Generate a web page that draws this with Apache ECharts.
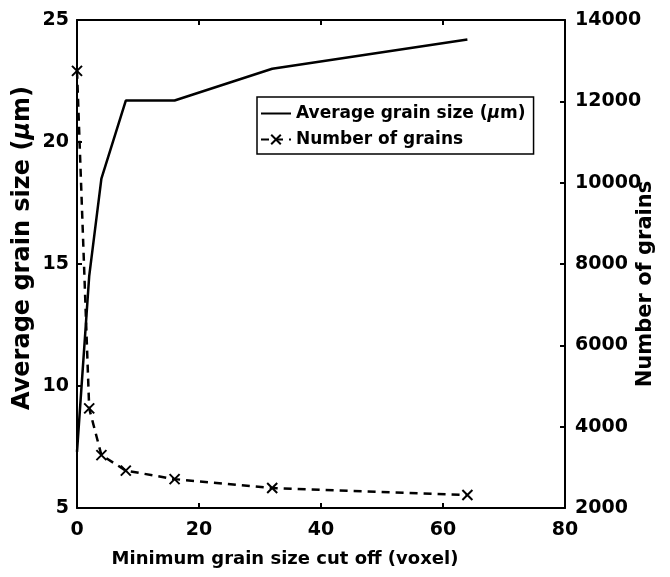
<!DOCTYPE html>
<html>
<head>
<meta charset="utf-8">
<script src="https://cdn.jsdelivr.net/npm/echarts@6/dist/echarts.min.js"></script>
<style>html,body{margin:0;padding:0;background:#fff}#c{width:670px;height:577px}</style>
</head>
<body>
<div id="c"></div>
<script>
var cutoff = [0, 2, 4, 8, 16, 32, 64];
var avgGrainSize = [7.3, 14.5, 18.5, 21.7, 21.7, 23.0, 24.2];
var numGrains = [12750, 4450, 3300, 2920, 2710, 2490, 2320];
var xTicks = {min: 0, max: 80, interval: 20};
var leftTicks = {min: 5, max: 25, interval: 5};
var rightTicks = {min: 2000, max: 14000, interval: 2000};

var FONT = 'DejaVu Sans';
var chart = echarts.init(document.getElementById('c'), null, {renderer: 'canvas'});
var lineAxis = {show: true, onZero: false, lineStyle: {color: '#000', width: 2}};
var tick = {show: true, inside: true, length: 5, lineStyle: {color: '#000', width: 2}};
var lbl = {color: '#000', fontFamily: FONT, fontWeight: 'bold', fontSize: 19, formatter: function (v) { return String(v); }};
var yNameSize = 24;

chart.setOption({
  backgroundColor: '#fff',
  animation: false,
  grid: {left: 77, right: 105, top: 20, bottom: 69, outerBoundsMode: 'none', containLabel: false},
  legend: {
    left: 257, top: 97, orient: 'vertical',
    itemWidth: 30, itemHeight: 12, itemGap: 9,
    padding: [8, 8, 6, 3],
    borderColor: '#000', borderWidth: 1.5,
    textStyle: {color: '#000', fontFamily: FONT, fontWeight: 'bold', fontSize: 17,
      rich: {mu: {fontStyle: 'italic', fontFamily: FONT, fontWeight: 'bold', fontSize: 17, color: '#000'}}},
    formatter: function (n) { return n.indexOf('μ') >= 0 ? 'Average grain size ({mu|μ}m)' : n; },
    data: [{name: 'Average grain size (μm)', itemStyle: {opacity: 0}}, {name: 'Number of grains'}]
  },
  xAxis: [{
    type: 'value', position: 'bottom', min: xTicks.min, max: xTicks.max, interval: xTicks.interval,
    axisLine: lineAxis, axisTick: tick, splitLine: {show: false},
    axisLabel: Object.assign({margin: 13}, lbl),
    name: 'Minimum grain size cut off (voxel)', nameLocation: 'middle', nameGap: 42, nameMoveOverlap: false,
    nameTextStyle: {color: '#000', fontFamily: FONT, fontWeight: 'bold', fontSize: 18, padding: [0, 72, 0, 0]}
  }, {
    type: 'value', position: 'top', min: xTicks.min, max: xTicks.max, interval: xTicks.interval,
    axisLine: lineAxis, axisTick: tick, splitLine: {show: false}, axisLabel: {show: false}
  }],
  yAxis: [{
    type: 'value', position: 'left', min: leftTicks.min, max: leftTicks.max, interval: leftTicks.interval,
    axisLine: lineAxis, axisTick: tick, splitLine: {show: false},
    axisLabel: Object.assign({margin: 8}, lbl),
    name: 'Average grain size ({mu|μ}m)', nameLocation: 'middle', nameGap: 42, nameRotate: 90, nameMoveOverlap: false,
    nameTextStyle: {color: '#000', fontFamily: FONT, fontWeight: 'bold', fontSize: yNameSize, padding: [0, 0, 0, 32],
      rich: {mu: {fontStyle: 'italic', fontFamily: FONT, fontWeight: 'bold', fontSize: yNameSize, color: '#000'}}}
  }, {
    type: 'value', position: 'right', min: rightTicks.min, max: rightTicks.max, interval: rightTicks.interval,
    axisLine: lineAxis, axisTick: tick, splitLine: {show: false},
    axisLabel: Object.assign({margin: 10}, lbl),
    name: 'Number of grains', nameLocation: 'middle', nameGap: 70, nameRotate: 90, nameMoveOverlap: false,
    nameTextStyle: {color: '#000', fontFamily: FONT, fontWeight: 'bold', fontSize: 21, padding: [0, 40, 0, 0]}
  }],
  series: [{
    name: 'Average grain size (μm)', type: 'line', xAxisIndex: 0, yAxisIndex: 0,
    data: cutoff.map(function (x, i) { return [x, avgGrainSize[i]]; }),
    symbol: 'none', lineStyle: {color: '#000', width: 2.5}, itemStyle: {color: '#000'}
  }, {
    name: 'Number of grains', type: 'line', xAxisIndex: 0, yAxisIndex: 1,
    data: cutoff.map(function (x, i) { return [x, numGrains[i]]; }),
    symbol: 'path://M0,0L10,10M10,0L0,10', symbolSize: 10,
    lineStyle: {color: '#000', width: 2.5, type: [8, 6]},
    itemStyle: {color: '#000', borderColor: '#000', borderWidth: 2}
  }]
});
</script>
</body>
</html>
